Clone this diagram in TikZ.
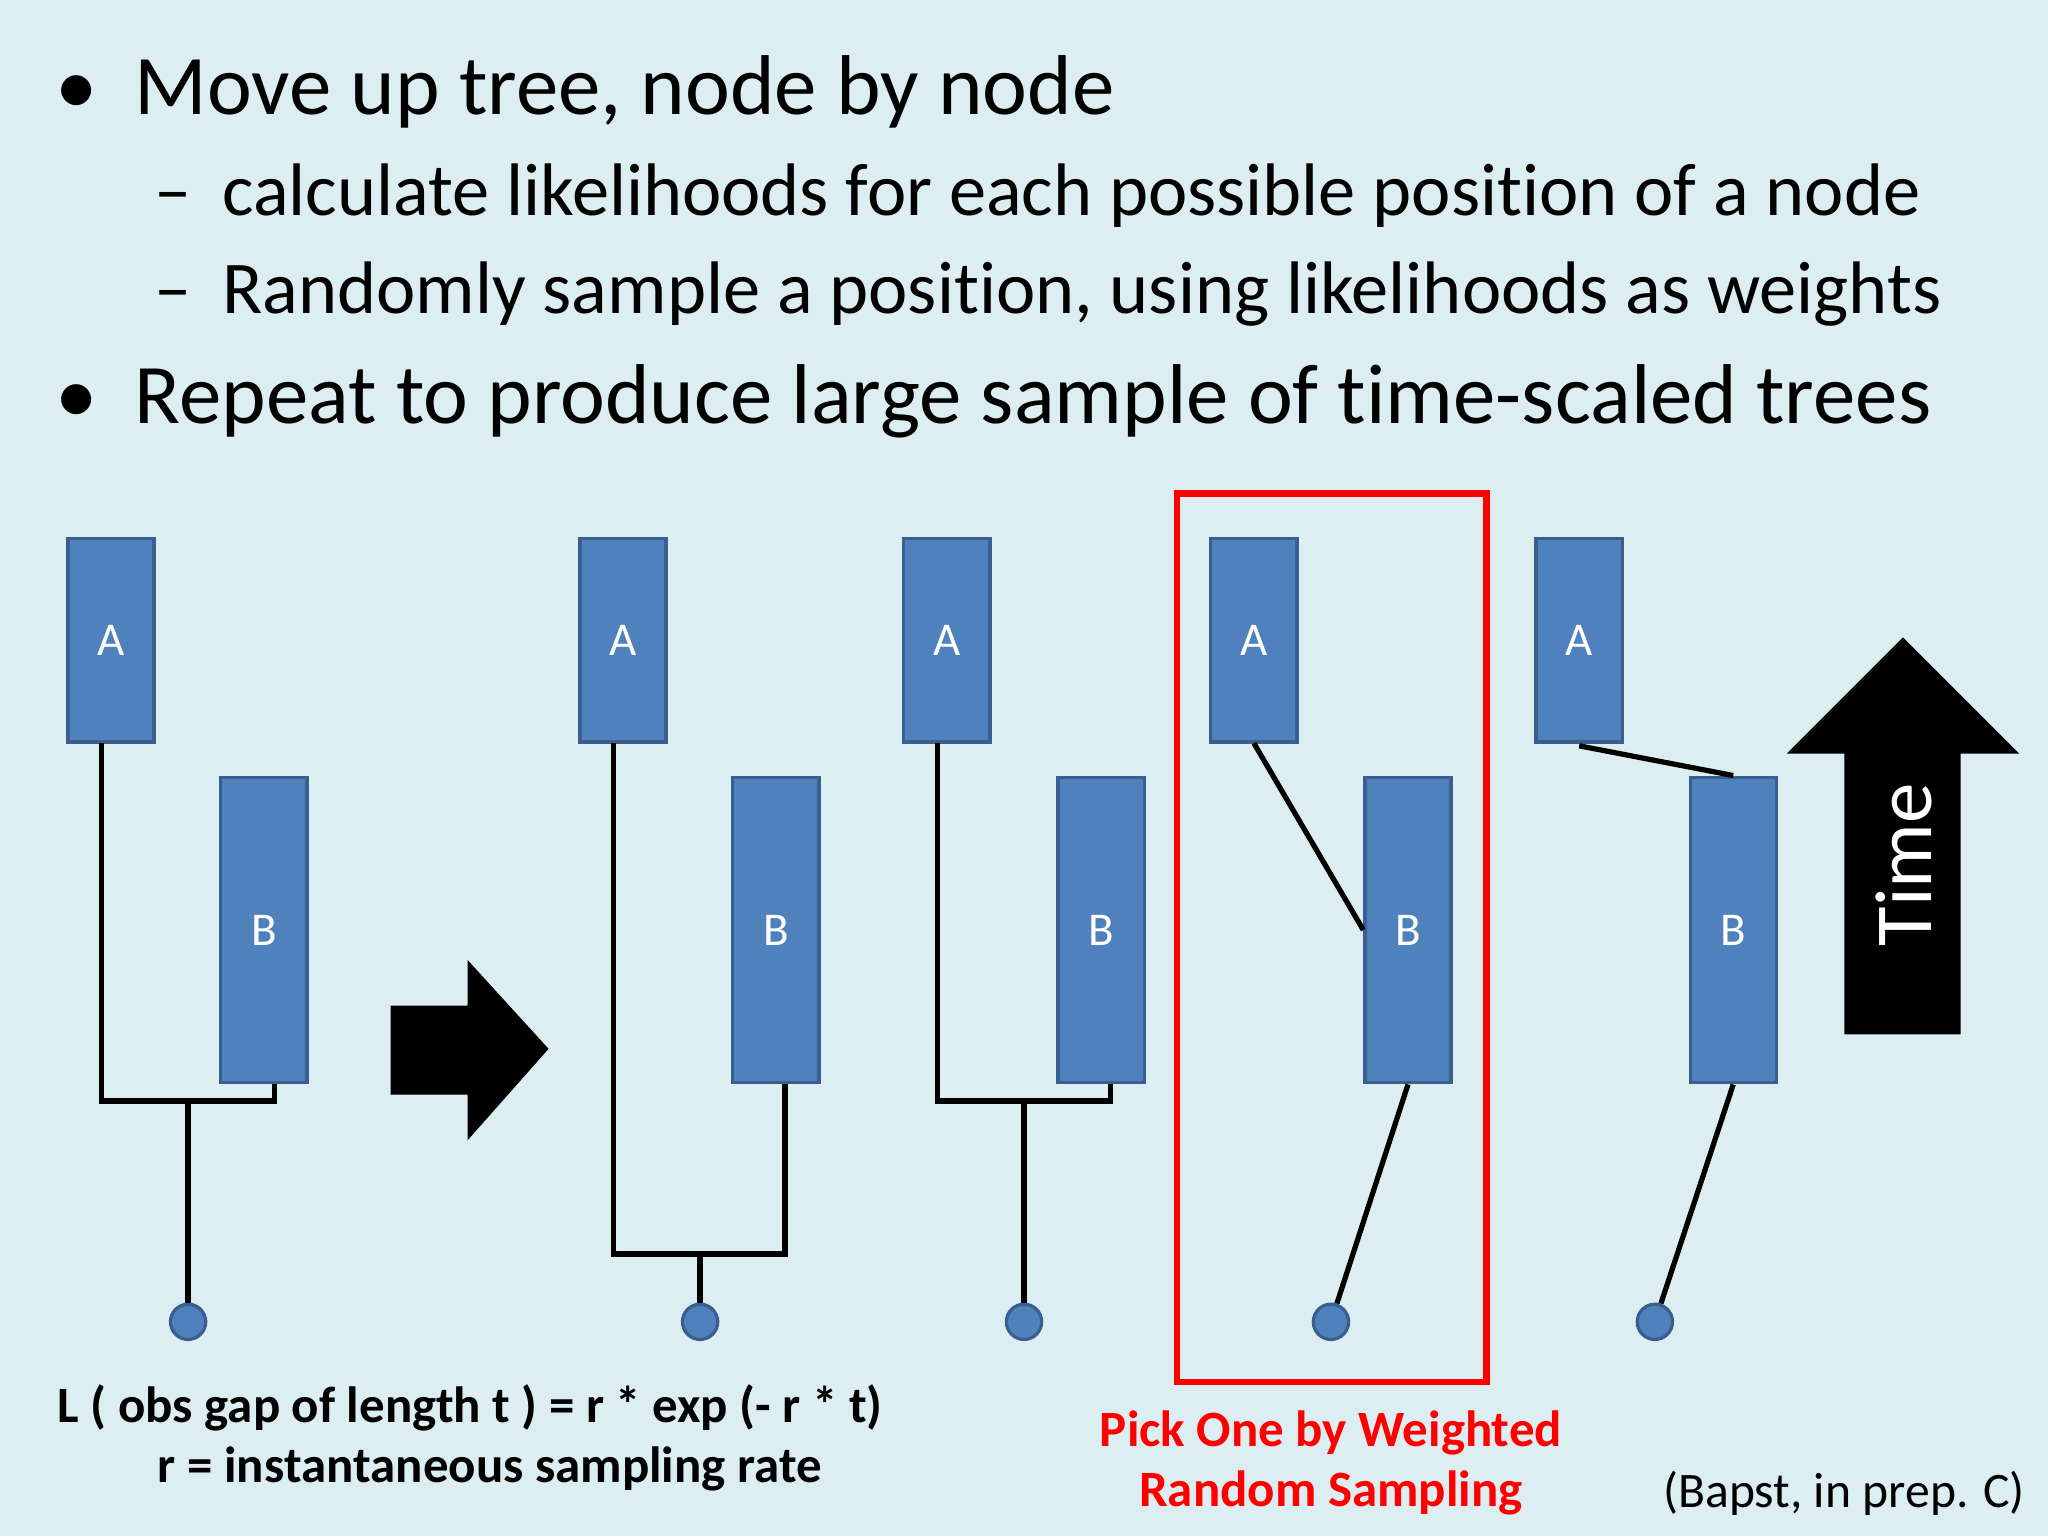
\documentclass[tikz,border=0pt]{standalone}
\usepackage{fontspec}
\setmainfont{Carlito}[Ligatures=NoCommon]
\definecolor{bg}{HTML}{DDEEF3}
\definecolor{bx}{HTML}{4F81BD}
\definecolor{bxd}{HTML}{3A5F8F}
\begin{document}
\begin{tikzpicture}[x=1pt,y=-1pt,
  boxA/.style={draw=bxd,line width=2.5pt,fill=bx,text=white,minimum width=66pt,minimum height=156pt,inner sep=0pt,font=\fontsize{36}{38}\selectfont},
  boxB/.style={boxA,minimum height=234pt},
  leaf/.style={circle,draw=bxd,line width=2.5pt,fill=bx,minimum size=27pt,inner sep=0pt},
  br/.style={line width=4pt,black},
  big/.style={anchor=base west,inner sep=0pt,font=\fontsize{65}{70}\selectfont},
  sub/.style={anchor=base west,inner sep=0pt,font=\fontsize{57}{60}\selectfont},
  lbl/.style={font=\bfseries\fontsize{39}{42}\selectfont}]
\fill[bg] (0,0) rectangle (1568,1176);
\useasboundingbox (0,0) rectangle (1568,1176);
% bullets
\node[big] (b1d) at (42,88) {•};
\node[big] (b1) at (103,88) {Move up tree, node by node};
\node[sub] (s1d) at (118,165) {–};
\node[sub] (s1) at (170,165) {calculate likelihoods for each possible position of a node};
\node[sub] (s2d) at (118,240) {–};
\node[sub] (s2) at (170,240) {Randomly sample a position, using likelihoods as weights};
\node[big] (b2d) at (42,324) {•};
\node[big] (b2) at (103,324) {Repeat to produce large sample of time-scaled trees};
% trees
\foreach \i/\xa/\xb in {1/85/202,2/477/594,3/725/843,4/960/1078,5/1209/1327}{
  \node[boxA] (A\i) at (\xa,490) {A};
  \node[boxB] (B\i) at (\xb,712) {B};
}
\foreach \i/\x in {1/144,2/536,3/784,4/1019,5/1267}{\node[leaf] (L\i) at (\x,1012) {};}
\coordinate (j1) at (144,843); \coordinate (j2) at (536,960); \coordinate (j3) at (784,843);
\draw[br] (78,569) |- (210,843) -- (210,830);
\draw[br] (j1) -- (L1);
\draw[br] (470,569) |- (601,960) -- (601,830);
\draw[br] (j2) -- (L2);
\draw[br] (718,569) |- (850,843) -- (850,830);
\draw[br] (j3) -- (L3);
\draw[br] (960,569) -- (B4.west);
\draw[br] (B4.south) -- (L4);
\draw[br] (1209,571) -- (B5.north);
\draw[br] (B5.south) -- (L5);
% arrows
\fill (299,770) -- (358,770) -- (358,735) -- (420,803) -- (358,873) -- (358,838) -- (299,838) -- cycle;
\fill (1412,792) -- (1412,577) -- (1368,577) -- (1457,488) -- (1546,577) -- (1501,577) -- (1501,792) -- cycle;
\node[rotate=90,text=white,font=\fontsize{62}{66}\selectfont] (time) at (1458,662) {Time};
\draw[red,line width=5pt] (901,378) rectangle (1138,1058);
% labels
\node[lbl] (eq1) at (360,1078) {L ( obs gap of length t ) = r * exp (- r * t)};
\node[lbl] (eq2) at (375,1125) {r = instantaneous sampling rate};
\node[lbl,text=red] (p1) at (1019,1097) {Pick One by Weighted};
\node[lbl,text=red] (p2) at (1019,1143) {Random Sampling};
\node[anchor=east,font=\fontsize{38}{40}\selectfont] (cite) at (1554,1143) {(Bapst, in prep. C)};
\end{tikzpicture}
\end{document}
